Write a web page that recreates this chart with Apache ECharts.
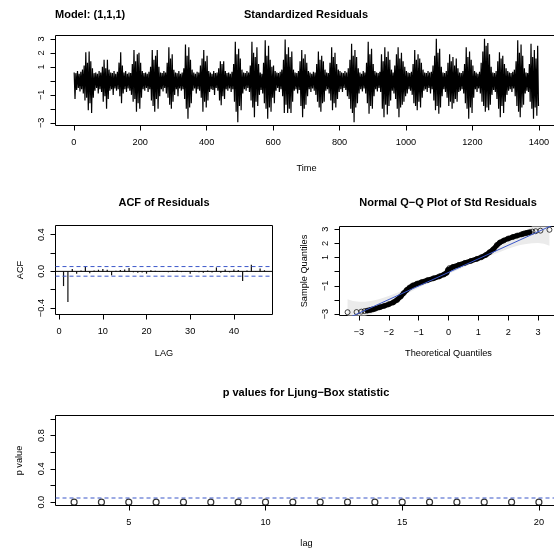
<!DOCTYPE html>
<html>
<head>
<meta charset="utf-8">
<script src="https://cdn.jsdelivr.net/npm/echarts@6/dist/echarts.min.js"></script>
<style>
  html, body { margin: 0; padding: 0; background: #fff; }
  #chart { width: 554px; height: 550px; }
</style>
</head>
<body>
<div id="chart"></div>
<script>
const FONT = '"Liberation Sans", Arial, Helvetica, sans-serif';
const BLUE = '#3b57c9';

// Standardized residuals: high and low of each 5-step block, t = 0..1399 (one row = 50 steps)
const resBlockHigh = [
  0.6, 0.55, 0.7, 0.5, 0.65, 0.8, 1.1, 2.05, 1.3, 2.1,
  1.4, 0.9, 0.55, 0.6, 0.5, 0.7, 0.6, 1.0, 1.5, 0.9,
  1.5, 0.8, 0.6, 0.55, 0.7, 0.5, 0.65, 1.3, 2.05, 1.1,
  0.6, 0.7, 0.5, 0.6, 0.55, 1.2, 2.2, 1.4, 1.9, 2.0,
  1.3, 0.7, 0.55, 0.6, 0.5, 0.65, 1.0, 2.2, 1.5, 1.8,
  2.2, 1.0, 0.6, 0.55, 0.7, 0.6, 1.3, 2.4, 1.6, 1.9,
  0.8, 0.6, 0.55, 0.7, 0.5, 0.6, 0.9, 2.6, 1.8, 2.4,
  1.5, 0.8, 0.6, 0.5, 0.65, 0.6, 1.1, 1.6, 2.2, 1.4,
  1.8, 0.7, 0.6, 0.5, 0.7, 0.55, 0.6, 0.9, 1.4, 1.2,
  1.4, 0.7, 0.55, 0.6, 0.5, 0.65, 1.2, 2.8, 1.9, 2.3,
  1.6, 0.8, 0.6, 0.55, 0.7, 0.6, 1.1, 2.8, 2.0, 1.7,
  2.4, 1.2, 0.6, 0.5, 1.3, 2.9, 1.8, 2.5, 1.5, 1.0,
  1.1, 0.7, 0.6, 0.55, 0.65, 0.8, 1.5, 2.95, 1.9, 2.4,
  1.7, 2.1, 0.8, 0.6, 0.55, 0.7, 1.4, 2.2, 1.6, 1.9,
  1.3, 0.7, 0.6, 0.5, 0.65, 0.6, 1.2, 2.1, 1.5, 1.8,
  1.4, 0.8, 0.6, 0.55, 1.3, 2.4, 1.7, 2.0, 1.2, 0.8,
  0.7, 0.6, 0.55, 0.7, 0.6, 0.9, 1.5, 2.65, 1.8, 2.2,
  1.7, 0.9, 0.6, 0.5, 0.7, 0.6, 1.3, 2.8, 1.9, 2.3,
  1.2, 0.7, 0.6, 0.55, 0.65, 1.9, 1.4, 2.4, 1.7, 2.1,
  1.5, 0.8, 0.6, 1.1, 1.9, 2.4, 1.6, 2.0, 1.4, 1.0,
  0.7, 0.6, 0.55, 0.65, 1.2, 2.2, 1.5, 1.9, 1.6, 1.3,
  0.8, 0.6, 0.55, 0.7, 0.6, 0.65, 1.1, 1.8, 3.0, 2.0,
  2.3, 1.0, 0.6, 0.55, 0.7, 1.3, 1.9, 1.4, 1.7, 1.1,
  1.6, 0.9, 0.6, 0.55, 0.7, 1.2, 2.4, 1.7, 2.1, 1.5,
  1.1, 0.7, 0.6, 0.5, 0.65, 1.3, 2.1, 3.0, 2.5, 2.7,
  1.9, 1.0, 0.6, 0.55, 0.7, 1.4, 2.05, 1.6, 1.8, 1.2,
  0.9, 0.7, 0.6, 0.55, 0.65, 0.8, 1.4, 2.9, 2.0, 2.6,
  1.8, 0.9, 0.6, 0.55, 1.2, 2.65, 1.7, 2.2, 1.6, 2.5
];
const resBlockLow = [
  -1.3, -0.65, -0.5, -0.75, -0.6, -0.9, -1.4, -1.2, -2.1, -1.6,
  -2.3, -1.2, -0.7, -0.5, -0.9, -0.6, -0.8, -1.5, -1.1, -2.0,
  -1.3, -0.7, -0.6, -1.0, -0.55, -0.7, -0.6, -1.1, -1.6, -0.9,
  -0.6, -0.8, -0.55, -0.7, -1.0, -1.5, -1.3, -2.2, -1.6, -2.0,
  -1.2, -0.6, -0.7, -0.5, -0.8, -0.6, -1.4, -1.8, -2.2, -1.3,
  -2.0, -1.1, -0.6, -0.75, -0.5, -0.9, -1.2, -1.7, -2.0, -1.5,
  -1.0, -0.6, -1.1, -0.55, -0.7, -0.6, -1.3, -2.0, -2.7, -1.9,
  -1.6, -0.7, -0.55, -0.9, -0.6, -0.7, -1.2, -2.2, -1.5, -1.9,
  -1.4, -0.8, -0.6, -0.65, -1.0, -0.5, -0.7, -1.4, -1.75, -1.1,
  -1.3, -0.6, -0.7, -0.55, -0.8, -0.6, -1.5, -2.2, -2.95, -1.8,
  -2.1, -0.9, -0.6, -0.7, -0.5, -0.8, -1.4, -1.9, -2.6, -1.5,
  -1.8, -1.0, -0.65, -0.9, -1.6, -2.0, -2.7, -1.9, -2.2, -1.2,
  -1.6, -0.7, -0.5, -0.8, -0.6, -1.1, -2.3, -1.7, -2.3, -2.0,
  -2.3, -1.5, -0.7, -0.6, -0.9, -0.65, -1.8, -2.6, -2.0, -1.7,
  -1.1, -0.6, -0.8, -0.55, -0.7, -1.0, -1.5, -1.9, -2.2, -1.6,
  -1.5, -0.7, -0.6, -0.9, -1.4, -2.1, -1.6, -1.9, -1.3, -0.8,
  -0.6, -0.8, -0.5, -0.65, -1.1, -1.3, -2.0, -2.3, -2.95, -1.9,
  -1.6, -0.9, -0.6, -0.75, -0.55, -0.9, -1.6, -2.35, -1.8, -2.0,
  -1.1, -0.6, -0.75, -0.5, -0.8, -2.0, -2.6, -1.7, -2.4, -1.8,
  -1.4, -0.7, -0.9, -1.3, -2.0, -2.6, -1.9, -1.7, -1.5, -1.1,
  -0.9, -0.6, -0.7, -1.0, -1.6, -1.8, -2.1, -1.5, -1.9, -1.2,
  -0.7, -0.6, -0.8, -0.5, -0.9, -0.6, -1.4, -2.1, -1.8, -2.35,
  -1.9, -1.1, -0.6, -0.8, -1.2, -1.8, -1.5, -2.0, -1.6, -1.3,
  -1.5, -0.8, -0.7, -0.6, -0.9, -1.6, -2.0, -2.7, -1.9, -2.3,
  -1.2, -0.6, -0.8, -0.55, -0.9, -1.5, -1.8, -2.2, -1.9, -2.1,
  -1.7, -1.0, -0.65, -0.8, -1.3, -2.0, -2.6, -1.8, -2.3, -1.5,
  -1.0, -0.7, -0.6, -0.8, -0.55, -1.1, -1.8, -2.2, -2.6, -1.9,
  -1.7, -0.9, -0.7, -0.8, -1.5, -2.0, -2.7, -1.9, -2.5, -1.8
];
const timeTicks = [0, 200, 400, 600, 800, 1000, 1200, 1400];
const nObs = 1400;

// Sample autocorrelation of the residuals, lags 1..47
const acfValues = [
  -0.16, -0.335, 0.025, -0.025, 0.01, 0.055, -0.02, 0.01, 0.018, 0.025,
  0.018, -0.043, 0.008, 0.015, 0.02, 0.036, -0.01, -0.015, -0.012, -0.025,
  0.012, 0.008, -0.006, 0.005, -0.01, 0.008, 0.01, -0.008, 0.005, -0.025,
  0.006, -0.01, -0.015, 0.01, -0.012, 0.043, -0.015, 0.02, -0.01, 0.02,
  0.015, -0.105, 0.01, 0.072, -0.008, 0.03, 0.012
];
const acfTicks = [0, 10, 20, 30, 40];

// Normal Q-Q: theoretical vs sample quantiles
const qqTheo = [
  -3.38, -3.08, -2.92, -2.81, -2.72, -2.64, -2.58, -2.52, -2.45, -2.3,
  -2.15, -2.0, -1.85, -1.72, -1.6, -1.5, -1.4, -1.3, -1.2, -1.05,
  -0.9, -0.7, -0.5, -0.3, -0.15, -0.06, -0.02, 0.03, 0.15, 0.35,
  0.55, 0.75, 0.95, 1.1, 1.25, 1.38, 1.5, 1.62, 1.72, 1.85,
  2.0, 2.15, 2.3, 2.45, 2.52, 2.58, 2.64, 2.72, 2.81, 2.92,
  3.08, 3.38
];
const qqSample = [
  -2.87, -2.86, -2.83, -2.79, -2.76, -2.72, -2.69, -2.66, -2.62, -2.52,
  -2.42, -2.31, -2.18, -2.0, -1.76, -1.52, -1.3, -1.12, -0.98, -0.85,
  -0.74, -0.6, -0.47, -0.33, -0.2, -0.08, 0.12, 0.25, 0.34, 0.48,
  0.62, 0.76, 0.9, 1.02, 1.18, 1.38, 1.58, 1.88, 2.06, 2.2,
  2.34, 2.45, 2.55, 2.64, 2.69, 2.72, 2.75, 2.79, 2.83, 2.86,
  2.9, 2.96
];
const qqLineIntercept = -0.055;
const qqLineSlope = 0.96;
const bandZ = [-3.38, -3.2, -3.0, -2.8, -2.6, -2.4, -2.2, -2.0, -1.5, -1.0, 0, 1.0, 1.5, 2.0, 2.2, 2.4, 2.6, 2.8, 3.0, 3.2, 3.38];
const bandHalfWidth = [1.35, 1.05, 0.8, 0.62, 0.48, 0.37, 0.3, 0.25, 0.17, 0.13, 0.11, 0.13, 0.17, 0.25, 0.3, 0.37, 0.48, 0.62, 0.8, 1.05, 1.35];
const qqTicks = [-3, -2, -1, 0, 1, 2, 3];
const qqLabels = [-3, -1, 1, 2, 3];

// Ljung-Box p-values
const lbLags = [3, 4, 5, 6, 7, 8, 9, 10, 11, 12, 13, 14, 15, 16, 17, 18, 19, 20];
const lbPValues = [0, 0, 0, 0, 0, 0, 0, 0, 0, 0, 0, 0, 0, 0, 0, 0, 0, 0];
const lbLevel = 0.05;
const lbTicks = [5, 10, 15, 20];

// ---- helpers -------------------------------------------------------------
const pad4 = (lo, hi) => { const d = (hi - lo) * 0.04; return [lo - d, hi + d]; };
const minus = s => String(s).replace('-', '\u2212');

function axis(opts) {
  const base = {
    type: 'value',
    axisLine: { show: false, onZero: false },
    splitLine: { show: false },
    axisTick: { show: true, inside: false, length: 5, lineStyle: { color: '#000', width: 1 } },
    axisLabel: { color: '#000', fontSize: 9.2, fontFamily: FONT, margin: 12, formatter: v => minus(v) },
    nameLocation: 'middle',
    nameTextStyle: { color: '#000', fontSize: 9.2, fontFamily: FONT }
  };
  const o = Object.assign({}, base, opts);
  o.axisTick = Object.assign({}, base.axisTick, opts.axisTick || {});
  o.axisLabel = Object.assign({}, base.axisLabel, opts.axisLabel || {});
  return o;
}
function yAxisOf(opts) {
  const o = axis(opts);
  o.position = 'left';
  o.axisLabel = Object.assign({}, o.axisLabel, { rotate: 90, margin: 10 });
  return o;
}

// ---- derived data ----------------------------------------------------------
const resSeries = [];
resBlockHigh.forEach((hi, k) => {
  resSeries.push([5 * k + 1.25, hi], [5 * k + 3.75, resBlockLow[k]]);
});
const tRange = pad4(1, nObs);
const rRange = pad4(Math.min(...resBlockLow), Math.max(...resBlockHigh));

const acfLags = acfValues.map((_, i) => i + 1);
const acfRange = pad4(1, acfLags.length);
const acfBound = 1.96 / Math.sqrt(nObs);

const qxRange = pad4(qqTheo[0], qqTheo[qqTheo.length - 1]);
const qyRange = pad4(Math.min(...qqSample), Math.max(...qqSample));
const qqPoints = qqTheo.map((z, i) => [z, qqSample[i]]);
const qqLinePts = qxRange.map(z => [z, qqLineIntercept + qqLineSlope * z]);
const clampY = v => Math.max(qyRange[0], Math.min(qyRange[1], v));
const bandUpper = bandZ.map((z, i) => [z, clampY(qqLineIntercept + qqLineSlope * z + bandHalfWidth[i])]);
const bandLower = bandZ.map((z, i) => [z, clampY(qqLineIntercept + qqLineSlope * z - bandHalfWidth[i])]);
const bandPolygon = bandUpper.concat(bandLower.slice().reverse());

const lbRange = pad4(lbLags[0], lbLags[lbLags.length - 1]);

// ---- layout ----------------------------------------------------------------
const gridStyle = { show: true, borderColor: '#000', borderWidth: 1, backgroundColor: 'transparent', containLabel: false, outerBoundsMode: 'none' };
const grids = [
  Object.assign({ left: 55.5, top: 35.5, width: 502, height: 90 }, gridStyle),
  Object.assign({ left: 55.5, top: 225.5, width: 217, height: 89 }, gridStyle),
  Object.assign({ left: 339.5, top: 226.5, width: 218, height: 89 }, gridStyle),
  Object.assign({ left: 55.5, top: 415.5, width: 502, height: 90 }, gridStyle)
];

const titleFont = 'bold 11px ' + FONT;
function titleText(text, x, y, align) {
  return {
    type: 'text', x: x, y: y, silent: true,
    style: { text: text, font: titleFont, fill: '#000', align: align, textAlign: align, verticalAlign: 'middle', textVerticalAlign: 'middle' }
  };
}

const option = {
  animation: false,
  backgroundColor: '#fff',
  grid: grids,
  xAxis: [
    axis({ gridIndex: 0, position: 'bottom', min: tRange[0], max: tRange[1], name: 'Time', nameGap: 38,
      axisTick: { customValues: timeTicks }, axisLabel: { customValues: timeTicks } }),
    axis({ gridIndex: 1, position: 'bottom', min: acfRange[0], max: acfRange[1], name: 'LAG', nameGap: 34,
      axisTick: { customValues: acfTicks }, axisLabel: { customValues: acfTicks } }),
    axis({ gridIndex: 2, position: 'bottom', min: qxRange[0], max: qxRange[1], name: 'Theoretical Quantiles', nameGap: 33,
      axisTick: { customValues: qqTicks }, axisLabel: { customValues: qqTicks } }),
    axis({ gridIndex: 3, position: 'bottom', min: lbRange[0], max: lbRange[1], name: 'lag', nameGap: 33,
      axisTick: { customValues: lbTicks }, axisLabel: { customValues: lbTicks } })
  ],
  yAxis: [
    yAxisOf({ gridIndex: 0, min: rRange[0], max: rRange[1],
      axisTick: { customValues: [-3, -2, -1, 0, 1, 2, 3] }, axisLabel: { customValues: [-3, -1, 1, 2, 3] } }),
    yAxisOf({ gridIndex: 1, min: -0.47, max: 0.5, name: 'ACF', nameGap: 31,
      axisTick: { customValues: [-0.4, -0.2, 0, 0.2, 0.4] },
      axisLabel: { customValues: [-0.4, 0, 0.4], formatter: v => minus(v.toFixed(1)) } }),
    yAxisOf({ gridIndex: 2, min: qyRange[0], max: qyRange[1], name: 'Sample Quantiles', nameGap: 31,
      axisTick: { customValues: qqTicks }, axisLabel: { customValues: qqLabels } }),
    yAxisOf({ gridIndex: 3, min: -0.04, max: 1.04, name: 'p value', nameGap: 32,
      axisTick: { customValues: [0, 0.2, 0.4, 0.6, 0.8, 1.0] },
      axisLabel: { customValues: [0, 0.4, 0.8], formatter: v => v.toFixed(1) } })
  ],
  graphic: [
    titleText('Model: (1,1,1)', 55, 15, 'left'),
    titleText('Standardized Residuals', 306, 15, 'center'),
    titleText('ACF of Residuals', 164, 203, 'center'),
    titleText('Normal Q\u2212Q Plot of Std Residuals', 448, 203, 'center'),
    titleText('p values for Ljung\u2212Box statistic', 306, 393, 'center')
  ],
  series: [
    {
      name: 'residuals', type: 'line', xAxisIndex: 0, yAxisIndex: 0,
      data: resSeries, symbol: 'none', clip: true, silent: true,
      lineStyle: { color: '#000', width: 1.2 }
    },
    {
      name: 'acf', type: 'custom', xAxisIndex: 1, yAxisIndex: 1, silent: true,
      data: acfLags.map((l, i) => [l, acfValues[i]]),
      renderItem: (params, api) => {
        const a = api.coord([api.value(0), 0]);
        const b = api.coord([api.value(0), api.value(1)]);
        return { type: 'line', shape: { x1: a[0], y1: a[1], x2: b[0], y2: b[1] }, style: { stroke: '#111', lineWidth: 1.2 } };
      }
    },
    {
      name: 'acf zero', type: 'line', xAxisIndex: 1, yAxisIndex: 1, silent: true, symbol: 'none',
      data: [[acfRange[0], 0], [acfRange[1], 0]], lineStyle: { color: '#000', width: 1 }
    },
    {
      name: 'acf upper', type: 'line', xAxisIndex: 1, yAxisIndex: 1, silent: true, symbol: 'none',
      data: [[acfRange[0], acfBound], [acfRange[1], acfBound]], lineStyle: { color: BLUE, width: 1, type: [4, 3] }
    },
    {
      name: 'acf lower', type: 'line', xAxisIndex: 1, yAxisIndex: 1, silent: true, symbol: 'none',
      data: [[acfRange[0], -acfBound], [acfRange[1], -acfBound]], lineStyle: { color: BLUE, width: 1, type: [4, 3] }
    },
    {
      name: 'qq band', type: 'custom', xAxisIndex: 2, yAxisIndex: 2, silent: true,
      data: [[0, 0]],
      renderItem: (params, api) => ({
        type: 'polygon',
        shape: { points: bandPolygon.map(p => api.coord(p)) },
        style: { fill: '#ebebeb' }
      })
    },
    {
      name: 'qq dense', type: 'line', xAxisIndex: 2, yAxisIndex: 2, silent: true, symbol: 'none',
      data: qqPoints.slice(4, qqPoints.length - 4),
      lineStyle: { color: '#000', width: 5, cap: 'round', join: 'round' }
    },
    {
      name: 'qq points', type: 'scatter', xAxisIndex: 2, yAxisIndex: 2, silent: true,
      data: qqPoints, symbol: 'circle', symbolSize: 5,
      itemStyle: { color: 'rgba(0,0,0,0)', borderColor: '#000', borderWidth: 0.9 }
    },
    {
      name: 'qq line', type: 'line', xAxisIndex: 2, yAxisIndex: 2, silent: true, symbol: 'none', clip: true,
      data: qqLinePts, lineStyle: { color: BLUE, width: 1 }
    },
    {
      name: 'p value', type: 'scatter', xAxisIndex: 3, yAxisIndex: 3, silent: true,
      data: lbLags.map((l, i) => [l, lbPValues[i]]), symbol: 'circle', symbolSize: 6,
      itemStyle: { color: 'rgba(0,0,0,0)', borderColor: '#000', borderWidth: 1.2 }
    },
    {
      name: 'level', type: 'line', xAxisIndex: 3, yAxisIndex: 3, silent: true, symbol: 'none',
      data: [[lbRange[0], lbLevel], [lbRange[1], lbLevel]], lineStyle: { color: BLUE, width: 1, type: [4, 3] }
    }
  ]
};

const chart = echarts.init(document.getElementById('chart'), null, { renderer: 'canvas' });
chart.setOption(option);
</script>
</body>
</html>
